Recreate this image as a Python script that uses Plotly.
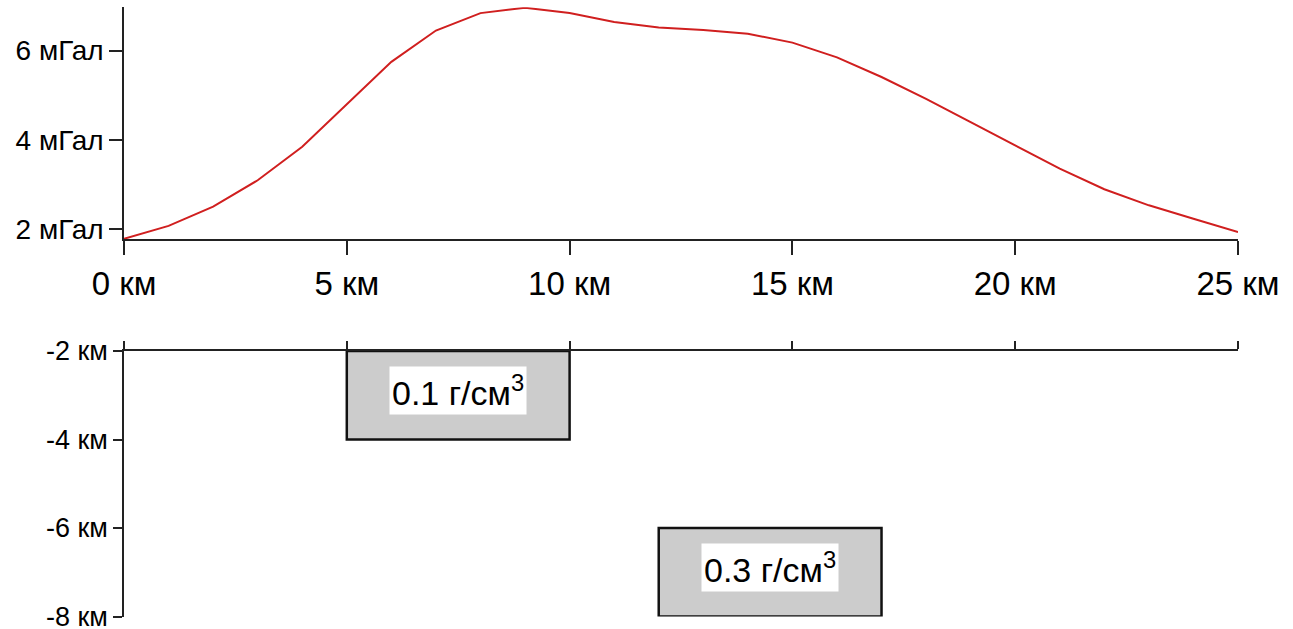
import plotly.graph_objects as go

# Gravity anomaly profile (km, mGal)
distance_km = [0, 1, 2, 3, 4, 5, 6, 7, 8, 9, 10, 11, 12, 13, 14, 15, 16, 17, 18, 19, 20, 21, 22, 23, 24, 25]
anomaly_mgal = [1.79, 2.08, 2.51, 3.10, 3.85, 4.81, 5.75, 6.45, 6.84, 6.96, 6.84, 6.64, 6.52, 6.46, 6.38, 6.18,
                5.85, 5.41, 4.92, 4.40, 3.88, 3.36, 2.90, 2.54, 2.24, 1.94]

# Density bodies
body_x0 = [5, 12]
body_x1 = [10, 17]
body_top = [-2, -6]
body_bottom = [-4, -8]
body_labels = ["0.1 г/см<sup>3</sup>", "0.3 г/см<sup>3</sup>"]

x_ticks = [0, 5, 10, 15, 20, 25]
x_ticktext = ["0 км", "5 км", "10 км", "15 км", "20 км", "25 км"]
g_ticks = [2, 4, 6]
g_ticktext = ["2 мГал", "4 мГал", "6 мГал"]
d_ticks = [-2, -4, -6, -8]
d_ticktext = ["-2 км", "-4 км", "-6 км", "-8 км"]

FONT = "Liberation Sans, Arial, sans-serif"
W, H = 1293, 629

fig = go.Figure()
fig.add_trace(go.Scatter(x=distance_km, y=anomaly_mgal, mode="lines",
                         line=dict(color="#d01f1f", width=2), xaxis="x", yaxis="y",
                         showlegend=False, hoverinfo="skip"))
# invisible trace for the lower axes
fig.add_trace(go.Scatter(x=[0, 25], y=[-2, -8], mode="markers", marker=dict(opacity=0),
                         xaxis="x2", yaxis="y2", showlegend=False, hoverinfo="skip"))

for x0, x1, y0, y1, lab in zip(body_x0, body_x1, body_top, body_bottom, body_labels):
    fig.add_shape(type="rect", xref="x2", yref="y2", x0=x0, x1=x1, y0=y1, y1=y0,
                  fillcolor="#cccccc", line=dict(color="#111111", width=2.5), layer="below")
    fig.add_annotation(x=(x0 + x1) / 2, y=(y0 + y1) / 2 + 0.1, xref="x2", yref="y2", text=lab,
                       showarrow=False, bgcolor="white", borderpad=2,
                       font=dict(family=FONT, size=34, color="black"))

axis_common = dict(showgrid=False, zeroline=False, showline=True, linecolor="#222222",
                   linewidth=1.5, ticks="outside", tickcolor="#222222", tickwidth=1.5,
                   automargin=False, ticklabeloverflow="allow")

top_dom = [1 - 239.3 / H, 1 - 7.3 / H]
bot_dom = [1 - 616.5 / H, 1 - 351 / H]

fig.update_layout(
    width=W, height=H,
    margin=dict(l=124, r=55, t=0, b=0),
    paper_bgcolor="white", plot_bgcolor="rgba(0,0,0,0)",
    xaxis=dict(**axis_common, range=[0, 25], domain=[0, 1], anchor="y",
               tickvals=x_ticks, ticktext=x_ticktext, ticklen=14,
               tickfont=dict(family=FONT, size=33, color="black")),
    yaxis=dict(**axis_common, range=[1.78, 6.97], domain=top_dom, anchor="x",
               tickvals=g_ticks, ticktext=g_ticktext, ticklen=13,
               tickfont=dict(family=FONT, size=28, color="black")),
    xaxis2=dict(**axis_common, range=[0, 25], domain=[0, 1], anchor="y2", side="top",
                tickvals=x_ticks, showticklabels=False, ticklen=8),
    yaxis2=dict(**axis_common, range=[-8, -2], domain=bot_dom, anchor="x2",
                tickvals=d_ticks, ticktext=d_ticktext, ticklen=9,
                tickfont=dict(family=FONT, size=27, color="black")),
)

fig.write_html("out.html")
